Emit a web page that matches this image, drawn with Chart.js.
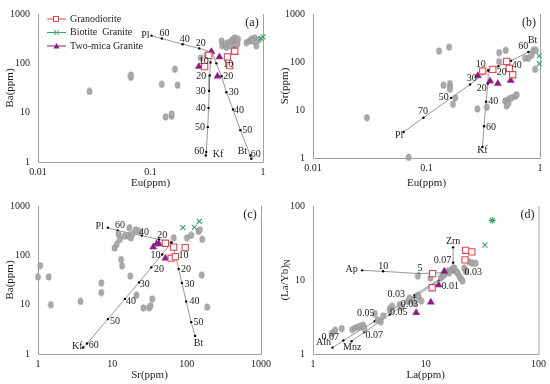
<!DOCTYPE html>
<html>
<head>
<meta charset="utf-8">
<script src="https://cdn.jsdelivr.net/npm/chart.js@4/dist/chart.umd.min.js"></script>
<style>
  body { margin: 0; background: #fff; }
  .wrap { position: relative; width: 550px; height: 384px; }
  .panel { position: absolute; width: 275px; height: 192px; }
</style>
</head>
<body>
<div class="wrap">
  <div class="panel" style="left:0;top:0"><canvas id="chartA" width="275" height="192"></canvas></div>
  <div class="panel" style="left:275px;top:0"><canvas id="chartB" width="275" height="192"></canvas></div>
  <div class="panel" style="left:0;top:192px"><canvas id="chartC" width="275" height="192"></canvas></div>
  <div class="panel" style="left:275px;top:192px"><canvas id="chartD" width="275" height="192"></canvas></div>
</div>
<script>
/* (a) Eu vs Ba */
var aGrey = [[0.0287,27],[0.067,52],[0.067,58],[0.126,37.5],[0.165,76],[0.174,36],[0.136,8.2],[0.154,8.5],[0.154,9.4],
  [0.28,129],[0.315,150],[0.428,284],[0.433,227],[0.465,245],[0.49,263],[0.474,210],[0.507,227],[0.525,284],
  [0.542,306],[0.561,328],[0.58,284],[0.593,245],[0.6,306],[0.561,227],[0.713,263],[0.762,284],[0.788,306],
  [0.843,328],[0.815,284],[0.873,227],[0.92,300]];
var aRed = [[0.303,86],[0.33,145],[0.483,135],[0.507,90],[0.561,176]];
var aPurple = [[0.269,86],[0.348,173],[0.41,135],[0.394,55],[0.553,181]];
var aGreen = [[0.96,320],[1.0,345]];
var aPl = [[0.102,364],[0.126,318],[0.193,244],[0.271,201],[0.353,168]];
var aKf = [[0.353,168],[0.341,104],[0.336,57],[0.332,27.5],[0.328,12.5],[0.323,5.1],[0.313,1.6],[0.31,1.35]];
var aBt = [[0.353,168],[0.385,100],[0.428,55],[0.473,26],[0.542,11.6],[0.63,4.4],[0.773,1.35],[0.788,1.16]];
var aNotes = [['Pl',0.09,372],['60',0.133,410],['40',0.202,305],['20',0.28,251],
  ['10',0.298,108],['20',0.282,55],['30',0.28,27.5],['40',0.28,12.3],['50',0.275,5.05],['60',0.271,1.68],['Kf',0.399,1.45],
  ['10',0.49,97],['20',0.49,55],['30',0.55,26.2],['40',0.612,11.3],['50',0.726,4.42],['60',0.861,1.41],['Bt',0.656,1.63]];

/* (b) Eu vs Sr */
var bGrey = [[0.0299,6.9],[0.0695,1.03],[0.129,169],[0.158,203],[0.141,32.9],[0.161,35.5],[0.161,30.5],[0.161,27],
  [0.171,13.2],[0.179,17.9],[0.281,10.5],[0.34,11.4],[0.436,102],[0.436,157],[0.499,175],[0.904,70],[0.789,119],
  [0.737,119],[0.845,139],[0.873,175],[0.92,175],[0.492,15.4],[0.526,16.6],[0.563,17.9],[0.603,19.3],[0.623,20.8],
  [0.508,12.2],[0.526,13.8]];
var bRed = [[0.313,65],[0.384,70],[0.509,103],[0.537,73.5],[0.575,54.2]];
var bPurple = [[0.283,51.9],[0.363,40],[0.425,35.5],[0.552,41.3]];
var bGreen = [[0.987,135],[0.987,92]];
var bPl = [[0.0628,3.47],[0.094,6.9],[0.165,17.9],[0.242,33.9],[0.351,67]];
var bBt = [[0.351,67],[0.43,81.7],[0.555,106],[0.789,162],[0.873,175]];
var bKf = [[0.351,67],[0.347,35.5],[0.335,14.9],[0.321,4.57],[0.311,1.7]];
var bNotes = [['Pl',0.0575,2.9],['70',0.093,9.33],['50',0.142,18.5],['30',0.25,46.5],['10',0.301,88],
  ['20',0.46,60.3],['40',0.624,85.5],['60',0.713,213],['Bt',0.861,284],
  ['20',0.307,28.3],['40',0.388,14.9],['60',0.371,4.43],['Kf',0.311,1.42]];

/* (c) Sr vs Ba */
var cGrey = [[1.0,36.4],[1.07,62],[1.39,36.4],[1.49,10],[3.73,11.6],[7.1,27.5],[7.1,17.6],[10.7,141],[11.5,168],
  [12.1,270],[12.6,210],[13.1,82],[13.5,61],[14.5,244],[16.5,244],[16.9,364],[17.4,38],[17.8,226],[18.7,270],
  [20.7,328],[21.1,15.6],[22.9,305],[26.2,8.6],[31.1,8.6],[32.7,9.5],[34.5,13.1],[66.9,226],[100.7,226],[115,255],
  [144,305],[151,328],[162,210],[159,39.8],[189,8.9]];
var cRed = [[51.8,176],[66.9,147],[95.6,143],[61.7,87.5],[70.4,94.2]];
var cPurple = [[35.5,147],[39.4,171],[42.3,171],[51.8,87.5]];
var cGreen = [[89,364],[127,370],[148,490]];
var cPl = [[8.7,364],[11.8,318],[24.9,251],[42.3,210],[62.3,181]];
var cKf = [[62.3,181],[46.8,104],[33.4,57],[22.9,28.3],[14.8,13.1],[8.7,5.1],[4.57,1.63],[4.05,1.35]];
var cBt = [[62.3,181],[70.4,104],[78,52.8],[86.3,27.5],[98.6,11.6],[115,4.42],[130,2.33]];
var cNotes = [['Pl',6.74,381],['60',12.7,410],['40',26.7,296],['20',46.8,255],
  ['10',38.2,98.6],['20',42.3,52.9],['30',27.3,26.2],['40',17.8,11.6],['50',10.9,4.62],['60',5.61,1.52],['Kf',3.37,1.41],
  ['10',90.8,98.6],['20',97.6,52.9],['30',109,26.2],['40',127,11.6],['50',144,4.42],['Bt',144,1.63]];

/* (d) La vs (La/Yb)N */
var dGrey = [[1.47,1.91],[1.57,2.1],[1.8,2.21],[2.23,2.14],[2.36,2.25],[2.52,2.32],[2.66,2.37],[2.79,2.44],[2.85,2.21],
  [3.53,3.52],[3.73,2.88],[3.99,2.72],[4.19,3.28],[4.79,4.0],[4.9,4.2],[5.02,4.42],[5.86,4.64],[6.07,4.29],[6.94,5.13],
  [7.18,5.66],[7.69,5.23],[7.94,4.88],[8.51,6.25],[8.61,5.95],[9.1,5.23],[8.51,11.3],[11.0,10.6],
  [13.6,10.8],[14.1,11.3],[14.6,11.9],[15.1,12.5],[15.6,13.1],[16.2,12.5],[16.7,13.5],[17.3,14.1],[17.9,14.5],
  [18.5,13.1],[19.1,12.5],[19.8,11.3],[20.5,10.4],[21.2,9.75],[21.9,14.5],[22.6,13.1],[24.2,17.7],[25.9,16.8],[27.7,16.8]];
var dRed = [[22.6,25.2],[25.6,24],[22.3,18.7],[11.5,12.2],[11.4,7.85]];
var dPurple = [[14.6,13.1],[13.0,8.57],[11.1,5.02],[8.22,3.62]];
var dGreen = [[38.9,64],[33.5,29.6]];
var dAp = [[2.73,13.5],[4.19,13.1],[8.68,12.2],[16.5,12.7]];
var dZrn = [[17.5,12.9],[17.5,17.1],[17.5,27.6]];
var dAln = [[16.5,12.7],[7.94,6.25],[3.53,2.77],[1.86,1.52],[1.49,1.22]];
var dMnz = [[16.5,12.7],[13.2,10.0],[7.94,5.83],[4.79,3.41],[2.85,1.96],[2.2,1.49]];
var dNotes = [['Ap',2.2,13.8],['10',4.19,15.5],['5',8.91,14.5],['Zrn',17.5,33.7],['0.07',14.1,18.6],['0.03',26.4,12.7],
  ['0.01',16.5,8.24],['0.03',5.48,6.37],['0.03',7.18,4.64],['0.05',2.93,3.52],['0.05',5.75,3.62],
  ['0.07',1.42,1.69],['0.07',3.49,1.76],['Aln',1.24,1.44],['Mnz',2.23,1.24]];

var serif = "'Liberation Serif', 'Times New Roman', serif";
var RED = '#e2474b', PURPLE = '#8b1c86', GREEN = '#2fa866';

// grey ellipse marker
var ell = document.createElement('canvas');
ell.width = 7; ell.height = 8;
var g = ell.getContext('2d');
g.beginPath();
g.ellipse(3.5, 4, 2.5, 3.2, 0, 0, Math.PI * 2);
g.fillStyle = '#ababab';
g.fill();
g.strokeStyle = '#8c8c8c';
g.lineWidth = 0.7;
g.stroke();

function xy(arr) {
  return arr.map(function (p) { return { x: p[0], y: p[1] }; });
}

function vec(arr) {
  return {
    data: xy(arr), showLine: true, borderColor: '#6a6a6a', borderWidth: 0.7,
    pointRadius: 1.2, pointBackgroundColor: '#000', pointBorderWidth: 0, clip: false
  };
}

var framePlugin = {
  id: 'frame',
  beforeDatasetsDraw: function (chart) {
    var a = chart.chartArea, ctx = chart.ctx;
    ctx.save();
    ctx.strokeStyle = '#a0a0a0';
    ctx.lineWidth = 1;
    ctx.beginPath();
    ctx.moveTo(a.left + 0.5, a.top);
    ctx.lineTo(a.left + 0.5, a.bottom + 0.5);
    ctx.lineTo(a.right + 0.5, a.bottom + 0.5);
    ctx.lineTo(a.right + 0.5, a.top);
    ctx.stroke();
    ctx.restore();
  },
  afterDatasetsDraw: function (chart, args, o) {
    var a = chart.chartArea, ctx = chart.ctx;
    var sx = chart.scales.x, sy = chart.scales.y;
    ctx.save();
    ctx.fillStyle = '#222';
    ctx.font = '10px ' + serif;
    ctx.textAlign = 'center';
    ctx.textBaseline = 'middle';
    o.notes.forEach(function (n) {
      ctx.fillText(n[0], sx.getPixelForValue(n[1]), sy.getPixelForValue(n[2]));
    });
    // panel letter
    ctx.font = '12px ' + serif;
    ctx.fillText(o.letter, a.right - 11, a.top + 9);
    // axis titles
    ctx.font = '11px ' + serif;
    ctx.fillText(o.xTitle, (a.left + a.right) / 2, 183);
    ctx.save();
    ctx.translate(10, (a.top + a.bottom) / 2);
    ctx.rotate(-Math.PI / 2);
    if (o.sub) {
      var w1 = ctx.measureText(o.yTitle).width;
      ctx.font = '8px ' + serif;
      var w2 = ctx.measureText(o.sub).width;
      ctx.textAlign = 'left';
      ctx.fillText(o.sub, -(w1 + w2) / 2 + w1, 3);
      ctx.font = '11px ' + serif;
      ctx.fillText(o.yTitle, -(w1 + w2) / 2, 0);
    } else {
      ctx.fillText(o.yTitle, 0, 0);
    }
    ctx.restore();
    // legend
    if (o.legend) {
      var rows = [['Granodiorite', RED, 'sq'], ['Biotite  Granite', GREEN, 'x'], ['Two-mica Granite', PURPLE, 'tri']];
      ctx.font = '10px ' + serif;
      ctx.textAlign = 'left';
      rows.forEach(function (r, i) {
        var y = 19 + i * 13.5;
        ctx.strokeStyle = r[1];
        ctx.fillStyle = r[1];
        ctx.lineWidth = 1;
        ctx.beginPath();
        ctx.moveTo(47, y); ctx.lineTo(66, y);
        ctx.stroke();
        if (r[2] === 'sq') {
          ctx.fillStyle = '#fff';
          ctx.fillRect(53.5, y - 2.5, 5, 5);
          ctx.strokeRect(53.5, y - 2.5, 5, 5);
        } else if (r[2] === 'x') {
          ctx.beginPath();
          ctx.moveTo(54, y - 2.5); ctx.lineTo(59, y + 2.5);
          ctx.moveTo(54, y + 2.5); ctx.lineTo(59, y - 2.5);
          ctx.stroke();
        } else {
          ctx.beginPath();
          ctx.moveTo(56.5, y - 3); ctx.lineTo(59.5, y + 2.5); ctx.lineTo(53.5, y + 2.5);
          ctx.closePath(); ctx.fill();
        }
        ctx.fillStyle = '#222';
        ctx.fillText(r[0], 70, y);
      });
    }
    ctx.restore();
  }
};

function makeChart(id, d) {
  var tickFont = { family: serif, size: 10 };
  var sets = [
    { data: xy(d.red), pointStyle: 'rect', pointRadius: 4.4, pointBackgroundColor: '#fff', pointBorderColor: RED, pointBorderWidth: 1.1, clip: false },
    { data: xy(d.purple), pointStyle: 'triangle', pointRadius: 4, pointBackgroundColor: PURPLE, pointBorderColor: PURPLE, pointBorderWidth: 0.5, clip: false },
    { data: xy(d.green), pointStyle: d.greenStyle || 'crossRot', pointRadius: 3.5, pointBorderColor: GREEN, pointBorderWidth: 1.1, clip: false },
    { data: xy(d.grey), pointStyle: ell, clip: false }
  ];
  d.lines.forEach(function (l) { sets.push(vec(l)); });
  return new Chart(document.getElementById(id), {
    type: 'scatter',
    data: { datasets: sets },
    plugins: [framePlugin],
    options: {
      responsive: false,
      animation: false,
      devicePixelRatio: 1,
      layout: { padding: { left: 0, top: 7, right: d.padRight, bottom: 0 } },
      plugins: {
        legend: { display: false },
        tooltip: { enabled: false },
        frame: { notes: d.notes, letter: d.letter, xTitle: d.xTitle, yTitle: d.yTitle, sub: d.sub, legend: d.legend }
      },
      scales: {
        x: {
          type: 'logarithmic', min: d.xTicks[0], max: d.xTicks[d.xTicks.length - 1],
          afterBuildTicks: function (s) { s.ticks = d.xTicks.map(function (v) { return { value: v }; }); },
          afterFit: function (s) { s.height = d.xHeight; },
          ticks: { callback: function (v) { return String(v); }, font: tickFont, color: '#222', padding: 4, maxRotation: 0, autoSkip: false },
          grid: { display: false, drawTicks: false },
          border: { display: false }
        },
        y: {
          type: 'logarithmic', min: d.yTicks[0], max: d.yTicks[d.yTicks.length - 1],
          afterBuildTicks: function (s) { s.ticks = d.yTicks.map(function (v) { return { value: v }; }); },
          afterFit: function (s) { s.width = 38; },
          ticks: { callback: function (v) { return String(v); }, font: tickFont, color: '#222', padding: 8, autoSkip: false },
          grid: { display: false, drawTicks: false },
          border: { display: false }
        }
      }
    }
  });
}

makeChart('chartA', {
  grey: aGrey, red: aRed, purple: aPurple, green: aGreen, lines: [aPl, aKf, aBt], notes: aNotes,
  xTicks: [0.01, 0.1, 1], yTicks: [1, 10, 100, 1000], xHeight: 30, padRight: 12,
  letter: '(a)', xTitle: 'Eu(ppm)', yTitle: 'Ba(ppm)', legend: true
});
makeChart('chartB', {
  grey: bGrey, red: bRed, purple: bPurple, green: bGreen, lines: [bPl, bBt, bKf], notes: bNotes,
  xTicks: [0.01, 0.1, 1], yTicks: [1, 10, 100, 1000], xHeight: 34, padRight: 10,
  letter: '(b)', xTitle: 'Eu(ppm)', yTitle: 'Sr(ppm)'
});
makeChart('chartC', {
  grey: cGrey, red: cRed, purple: cPurple, green: cGreen, lines: [cPl, cKf, cBt], notes: cNotes,
  xTicks: [1, 10, 100, 1000], yTicks: [1, 10, 100, 1000], xHeight: 30, padRight: 12,
  letter: '(c)', xTitle: 'Sr(ppm)', yTitle: 'Ba(ppm)'
});
makeChart('chartD', {
  grey: dGrey, red: dRed, purple: dPurple, green: dGreen, greenStyle: ['star', 'crossRot'], lines: [dAp, dZrn, dAln, dMnz], notes: dNotes,
  xTicks: [1, 10, 100], yTicks: [1, 10, 100], xHeight: 30, padRight: 10,
  letter: '(d)', xTitle: 'La(ppm)', yTitle: '(La/Yb)', sub: 'N'
});
</script>
</body>
</html>
